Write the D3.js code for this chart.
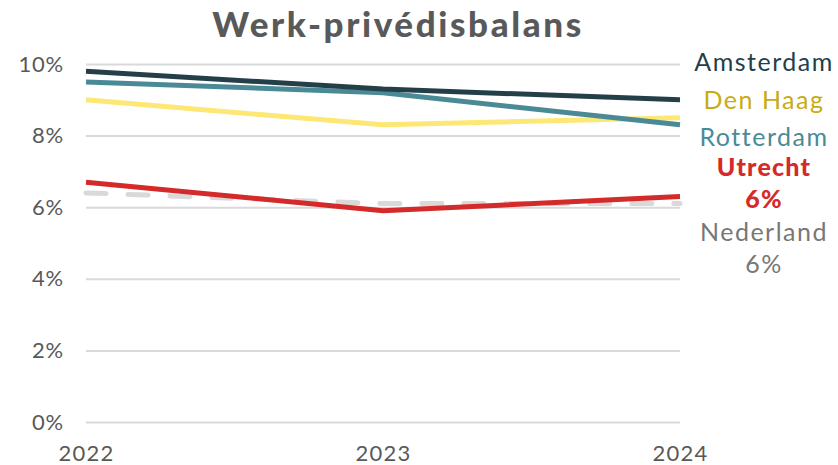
<!DOCTYPE html>
<html><head><meta charset="utf-8">
<script src="https://cdn.jsdelivr.net/npm/d3@7"></script>
<style>body{margin:0;background:#fff}svg{display:block}text{font-family:Lato,"Open Sans",sans-serif}</style>
</head><body>
<script>
const years = ["2022","2023","2024"];
const amsterdam = [9.8, 9.3, 9.0];
const rotterdam = [9.5, 9.2, 8.3];
const denHaag = [9.0, 8.3, 8.5];
const utrecht = [6.7, 5.9, 6.3];
const nederland = [6.4, 6.1, 6.1];
const yTicks = [0, 2, 4, 6, 8, 10];

const W = 838, H = 465;
const svg = d3.select("body").append("svg").attr("width", W).attr("height", H);
const x = d3.scalePoint().domain(years).range([86, 680]);
const y = d3.scaleLinear().domain([0, 10]).range([422, 64]);

svg.append("text").attr("x", 398).attr("y", 37).attr("text-anchor", "middle")
  .attr("font-size", 35).attr("font-weight", 900).attr("letter-spacing", 2.6)
  .attr("fill", "#595959").text("Werk-privédisbalans");

const gy = svg.append("g").attr("transform", "translate(86,0)")
  .call(d3.axisLeft(y).tickValues(yTicks).tickSize(-594).tickFormat(d => d + "%"));
gy.select(".domain").remove();
gy.selectAll(".tick line").attr("stroke", "#d9d9d9").attr("stroke-width", 2);
gy.selectAll(".tick text").attr("x", -22).attr("font-size", 22).attr("letter-spacing", 0.8).attr("fill", "#595959");

const gx = svg.append("g").attr("transform", "translate(0,422)")
  .call(d3.axisBottom(x).tickSize(0));
gx.select(".domain").remove();
gx.selectAll(".tick text").attr("dy", 0).attr("y", 39).attr("font-size", 22).attr("letter-spacing", 1.2).attr("fill", "#595959");

const line = d3.line().x((d, i) => x(years[i])).y(d => y(d));
const series = [
  {v: nederland, c: "#d9d9d9", dash: "20 22"},
  {v: denHaag, c: "#fde876"},
  {v: rotterdam, c: "#4a8a96"},
  {v: amsterdam, c: "#243f48"},
  {v: utrecht, c: "#d42a2a"}
];
series.forEach(s => {
  svg.append("path").attr("d", line(s.v)).attr("fill", "none").attr("stroke", s.c)
    .attr("stroke-width", 5).attr("stroke-linecap", s.dash ? "round" : "butt")
    .attr("stroke-linejoin", "round").attr("stroke-dasharray", s.dash || null);
});

const labels = [
  {t: "Amsterdam", y: 71, c: "#243f48"},
  {t: "Den Haag", y: 109, c: "#c9ab12"},
  {t: "Rotterdam", y: 146, c: "#4a8a96"},
  {t: "Utrecht", y: 176, c: "#d42a2a", b: true},
  {t: Math.round(utrecht[2]) + "%", y: 208, c: "#d42a2a", b: true},
  {t: "Nederland", y: 241, c: "#777777"},
  {t: Math.round(nederland[2]) + "%", y: 273, c: "#777777"}
];
labels.forEach(l => {
  svg.append("text").attr("x", 764).attr("y", l.y).attr("text-anchor", "middle")
    .attr("font-size", 25).attr("letter-spacing", l.b ? 1.2 : 1.5)
    .attr("font-weight", l.b ? 900 : 400).attr("fill", l.c).text(l.t);
});
</script>
</body></html>
